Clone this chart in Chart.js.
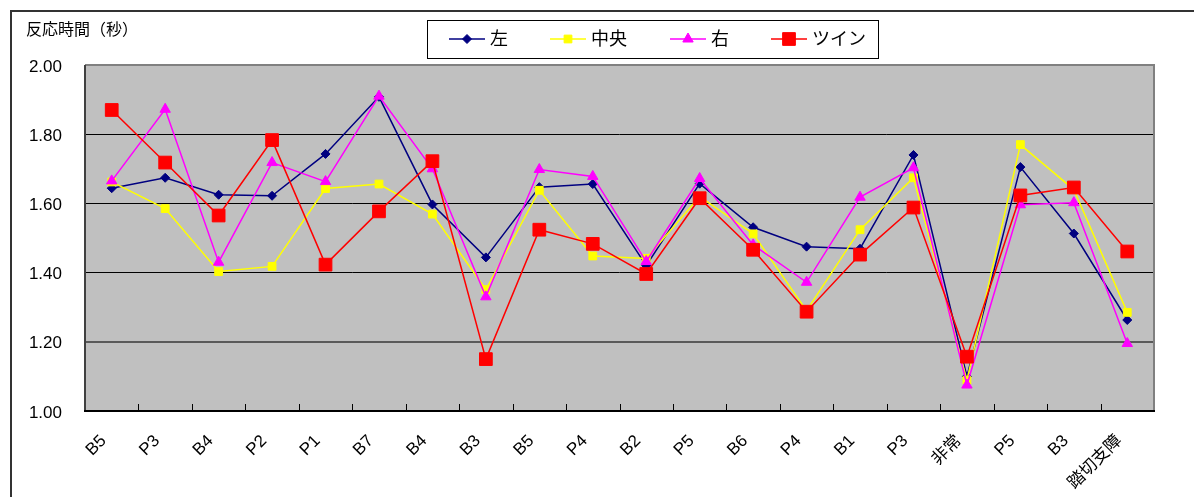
<!DOCTYPE html>
<html>
<head>
<meta charset="utf-8">
<script src="https://cdn.jsdelivr.net/npm/chart.js@4/dist/chart.umd.min.js"></script>
<style>
  html, body { margin: 0; padding: 0; background: #fff; }
  #wrap { position: relative; width: 1194px; height: 497px; }
</style>
</head>
<body>
<div id="wrap"><canvas id="c" width="1194" height="497"></canvas></div>
<script>
// Reaction time per signal position (seconds)
const categories = ['B5','P3','B4','P2','P1','B7','B4','B3','B5','P4','B2','P5','B6','P4','B1','P3','非常','P5','B3','踏切支障'];
const seriesNames = ['左', '中央', '右', 'ツイン'];
const seriesLeft   = [1.644,1.674,1.625,1.622,1.743,1.908,1.597,1.444,1.647,1.656,1.420,1.657,1.531,1.475,1.469,1.740,1.100,1.705,1.513,1.263];
const seriesCenter = [1.662,1.585,1.403,1.418,1.643,1.656,1.569,1.351,1.638,1.448,1.441,1.620,1.512,1.290,1.524,1.674,1.089,1.770,1.640,1.285];
const seriesRight  = [1.665,1.872,1.430,1.718,1.663,1.910,1.700,1.330,1.698,1.678,1.432,1.672,1.480,1.372,1.618,1.703,1.075,1.596,1.602,1.195];
const seriesTwin   = [1.870,1.718,1.565,1.783,1.423,1.577,1.722,1.150,1.524,1.483,1.396,1.615,1.466,1.287,1.452,1.588,1.157,1.623,1.646,1.461];
const yMin = 1.0, yMax = 2.0, yStep = 0.2;
const axisTitle = '反応時間（秒）';

const FONT = "'Liberation Sans', 'Noto Sans CJK JP', sans-serif";

const styles = [
  { color: '#000080', pointStyle: 'rectRot',  radius: 4.5, width: 1.5 },
  { color: '#FFFF00', pointStyle: 'rect',     radius: 5.5, width: 1.5 },
  { color: '#FF00FF', pointStyle: 'triangle', radius: 6,   width: 1.5 },
  { color: '#FF0000', pointStyle: 'rect',     radius: 9,   width: 1.5 }
];
const values = [seriesLeft, seriesCenter, seriesRight, seriesTwin];

function drawMarker(ctx, style, x, y) {
  const r = style.radius;
  ctx.beginPath();
  if (style.pointStyle === 'rectRot') {
    ctx.moveTo(x, y - r); ctx.lineTo(x + r, y); ctx.lineTo(x, y + r); ctx.lineTo(x - r, y);
  } else if (style.pointStyle === 'triangle') {
    for (let k = 0; k < 3; k++) {
      const a = k * 2 * Math.PI / 3;
      const px = x + Math.sin(a) * r, py = y - Math.cos(a) * r;
      k ? ctx.lineTo(px, py) : ctx.moveTo(px, py);
    }
  } else {
    const s = Math.SQRT1_2 * r;
    ctx.rect(x - s, y - s, 2 * s, 2 * s);
  }
  ctx.closePath();
  ctx.fillStyle = style.color;
  ctx.strokeStyle = style.color;
  ctx.lineWidth = 1;
  ctx.fill();
  ctx.stroke();
}

const framePlugin = {
  id: 'frame',
  beforeDraw(chart) {
    const { ctx, chartArea: a } = chart;
    ctx.save();
    ctx.fillStyle = '#fff';
    ctx.fillRect(0, 0, chart.width, chart.height);
    // outer chart frame
    ctx.strokeStyle = '#333';
    ctx.lineWidth = 2;
    ctx.beginPath();
    ctx.moveTo(11, chart.height);
    ctx.lineTo(11, 11);
    ctx.lineTo(chart.width, 11);
    ctx.stroke();
    // plot background
    ctx.fillStyle = '#C0C0C0';
    ctx.fillRect(a.left, a.top, a.right - a.left, a.bottom - a.top);
    ctx.restore();
  },
  beforeDatasetsDraw(chart) {
    const { ctx, chartArea: a, scales } = chart;
    const xs = scales.x;
    const step = xs.getPixelForValue(1) - xs.getPixelForValue(0);
    ctx.save();
    // plot border
    ctx.lineWidth = 2;
    ctx.strokeStyle = '#808080';
    ctx.beginPath();
    ctx.moveTo(a.left, a.top); ctx.lineTo(a.right, a.top); ctx.lineTo(a.right, a.bottom);
    ctx.stroke();
    ctx.strokeStyle = '#404040';
    ctx.beginPath();
    ctx.moveTo(a.left, a.top); ctx.lineTo(a.left, a.bottom);
    ctx.stroke();
    ctx.strokeStyle = '#000';
    ctx.beginPath();
    ctx.moveTo(a.left - 1, a.bottom); ctx.lineTo(a.right + 1, a.bottom);
    ctx.stroke();
    // inward category ticks
    ctx.lineWidth = 1;
    ctx.beginPath();
    for (let i = 1; i < categories.length; i++) {
      const bx = Math.round(xs.getPixelForValue(i) - step / 2) + 0.5;
      ctx.moveTo(bx, a.bottom);
      ctx.lineTo(bx, a.bottom - 7);
    }
    ctx.stroke();
    ctx.restore();
  },
  afterDraw(chart) {
    const { ctx } = chart;
    ctx.save();
    // axis title
    ctx.fillStyle = '#000';
    ctx.font = '16px ' + FONT;
    ctx.textBaseline = 'middle';
    ctx.textAlign = 'left';
    ctx.fillText(axisTitle, 26, 31);
    // legend box
    ctx.fillStyle = '#fff';
    ctx.fillRect(427, 20, 451, 38);
    ctx.strokeStyle = '#000';
    ctx.lineWidth = 1;
    ctx.strokeRect(427.5, 20.5, 451, 38);
    const itemX = [449, 550, 670, 771];
    const ly = 39;
    ctx.font = '18px ' + FONT;
    seriesNames.forEach((name, i) => {
      const st = styles[i];
      const x0 = itemX[i];
      ctx.strokeStyle = st.color;
      ctx.lineWidth = st.width;
      ctx.beginPath();
      ctx.moveTo(x0, ly); ctx.lineTo(x0 + 36, ly);
      ctx.stroke();
      drawMarker(ctx, st, x0 + 18, ly);
      ctx.fillStyle = '#000';
      ctx.textAlign = 'left';
      ctx.textBaseline = 'middle';
      ctx.fillText(name, x0 + 41, ly + 1);
    });
    ctx.restore();
  }
};

const datasets = values.map((data, i) => ({
  label: seriesNames[i],
  data: data,
  borderColor: styles[i].color,
  backgroundColor: styles[i].color,
  borderWidth: styles[i].width,
  pointStyle: styles[i].pointStyle,
  pointRadius: styles[i].radius,
  pointHoverRadius: styles[i].radius,
  pointBorderWidth: 1,
  pointBackgroundColor: styles[i].color,
  pointBorderColor: styles[i].color,
  tension: 0,
  fill: false,
  order: 3 - i
}));

new Chart(document.getElementById('c'), {
  type: 'line',
  data: { labels: categories, datasets: datasets },
  options: {
    responsive: false,
    animation: false,
    events: [],
    layout: { padding: { top: 65, right: 40, left: 0, bottom: 0 } },
    plugins: { legend: { display: false }, tooltip: { enabled: false }, title: { display: false } },
    scales: {
      x: {
        type: 'category',
        offset: true,
        grid: { display: false, drawTicks: false },
        border: { display: false },
        ticks: {
          autoSkip: false,
          maxRotation: 45,
          minRotation: 45,
          padding: 20,
          labelOffset: -8,
          color: '#000',
          font: { family: FONT, size: 17 }
        },
        afterFit(scale) { scale.height = 86; scale.paddingLeft = 0; scale.paddingRight = 0; }
      },
      y: {
        min: yMin,
        max: yMax,
        border: { display: false },
        grid: {
          drawTicks: false,
          color: (c) => (c.tick && Math.abs(c.tick.value - 1.2) < 1e-6) ? '#5a5a5a' : '#000',
          lineWidth: (c) => (c.tick && Math.abs(c.tick.value - 1.2) < 1e-6) ? 2 : 1
        },
        ticks: {
          stepSize: yStep,
          padding: 23,
          labelOffset: 2,
          color: '#000',
          font: { family: FONT, size: 17 },
          callback: (v) => Number(v).toFixed(2)
        },
        afterFit(scale) { scale.width = 85; }
      }
    }
  },
  plugins: [framePlugin]
});
</script>
</body>
</html>
